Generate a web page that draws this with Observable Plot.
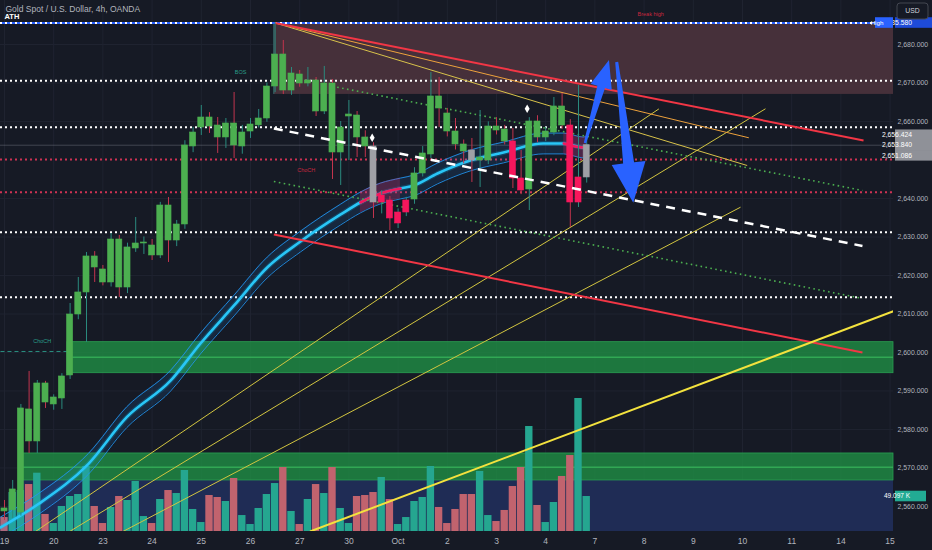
<!DOCTYPE html>
<html>
<head>
<meta charset="utf-8">
<script src="https://cdn.jsdelivr.net/npm/d3@7"></script>
<script src="https://cdn.jsdelivr.net/npm/@observablehq/plot@0.6"></script>
<style>
html,body{margin:0;padding:0;background:#161a25;}
#chart{position:relative;width:932px;height:550px;overflow:hidden;background:#161a25;}
#chart svg{position:absolute;left:0;top:0;}
</style>
</head>
<body>
<div id="chart"></div>
<script>
// ---------------- DATA ----------------
const open = [2559.49,2559.00,2558.44,2585.20,2576.89,2591.95,2586.50,2588.05,2594.03,2609.87,
 2615.59,2624.94,2621.56,2618.18,2629.35,2616.88,2627.02,2628.31,2627.79,2625.20,
 2638.18,2629.09,2633.25,2653.51,2658.44,2661.04,2658.96,2655.85,2659.48,2653.51,
 2657.40,2659.00,2660.78,2669.09,2677.40,2668.05,2672.21,2669.87,2670.65,2662.60,
 2669.87,2651.95,2661.30,2661.56,2655.85,2653.51,2638.96,2639.48,2633.51,2636.36,
 2639.74,2646.50,2651.43,2666.50,2662.08,2657.40,2654.03,2652.47,2649.87,2649.87,
 2658.70,2657.92,2654.81,2645.20,2642.34,2660.00,2655.85,2657.14,2663.90,2658.96,
 2638.96,2645.46];
const high = [2561.56,2566.76,2586.50,2595.07,2592.73,2592.50,2589.00,2594.50,2612.73,2619.48,
 2625.98,2626.20,2622.60,2630.91,2630.40,2628.40,2635.07,2630.00,2629.35,2639.00,
 2640.26,2634.30,2655.00,2658.50,2664.16,2662.30,2661.04,2660.78,2667.53,2659.00,
 2660.78,2663.12,2670.00,2685.61,2681.04,2674.03,2673.25,2674.03,2671.43,2674.30,
 2670.90,2660.00,2665.46,2662.60,2657.60,2654.50,2642.00,2640.50,2637.30,2640.30,
 2648.00,2653.50,2672.73,2671.43,2663.40,2660.78,2655.20,2655.59,2662.86,2659.90,
 2661.00,2659.00,2658.18,2652.47,2661.00,2661.50,2658.50,2666.24,2667.27,2660.50,
 2669.35,2656.42];
const low = [2556.38,2556.90,2557.50,2573.77,2573.77,2585.46,2585.00,2585.20,2592.99,2608.50,
 2602.60,2618.18,2617.30,2617.00,2614.29,2615.30,2626.00,2625.46,2623.90,2624.40,
 2623.38,2627.50,2632.00,2651.90,2656.37,2656.90,2651.70,2653.00,2650.39,2651.50,
 2655.60,2658.30,2659.80,2667.50,2667.00,2666.80,2668.90,2669.00,2661.30,2661.80,
 2644.94,2643.38,2649.87,2650.65,2650.65,2634.81,2636.00,2631.69,2632.20,2635.30,
 2638.50,2645.60,2650.40,2658.44,2656.00,2652.60,2649.00,2644.16,2642.86,2648.80,
 2656.50,2653.90,2642.60,2641.00,2636.88,2654.50,2654.80,2656.30,2658.00,2632.47,
 2637.66,2644.00];
const close = [2558.71,2564.42,2585.46,2576.89,2591.95,2587.01,2588.31,2593.77,2609.87,2615.59,
 2624.94,2622.08,2618.18,2629.35,2616.88,2627.28,2628.31,2628.57,2625.20,2638.18,
 2629.09,2633.25,2653.77,2657.14,2661.04,2658.70,2655.85,2659.48,2653.77,2657.14,
 2659.22,2660.78,2669.09,2677.40,2668.05,2672.47,2669.87,2670.65,2662.60,2669.87,
 2651.95,2658.44,2661.82,2655.85,2653.51,2638.96,2640.78,2634.81,2636.36,2639.48,
 2646.50,2651.69,2666.50,2663.38,2657.40,2654.03,2652.21,2649.87,2650.65,2658.70,
 2657.66,2654.81,2645.20,2642.08,2660.00,2655.85,2657.40,2663.90,2658.96,2638.96,
 2645.46,2653.84];
const volume = [19.6,54.7,57.5,65.9,81.8,23.9,11.2,35.1,49.1,51.9,
 91.2,35.1,11.2,33.7,49.1,43.5,70.2,21.0,11.2,44.9,
 57.5,53.3,85.6,30.9,12.6,50.5,47.7,42.1,74.4,22.4,
 9.8,32.3,51.9,67.3,89.8,28.1,9.8,44.9,65.9,53.3,
 89.8,32.3,11.2,49.1,50.5,54.7,75.8,44.9,9.8,19.6,
 42.1,47.7,91.2,33.7,11.2,30.9,51.9,51.9,84.2,22.4,
 14.0,29.5,63.1,89.8,147.3,36.5,12.6,40.7,77.2,106.6,
 186.6,49.097];
// trend state of the colouring indicator per bar
const trend = ["bull","bull","bull","bull","bull","bull","bull","bull","bull","bull",
 "bull","bull","bull","bull","bull","bull","bull","bull","bull","bull",
 "bull","bull","bull","bull","bull","bull","bull","bull","bull","bull",
 "bull","bull","bull","bull","bull","bull","bull","bull","bull","bull",
 "bull","bull","bull","bull","bull","flat","bear","bear","bear","bear",
 "bull","bull","bull","bull","bull","bull","bull","flat","bull","bull",
 "bull","bull","bear","bear","bull","bull","bull","bull","bull","bear",
 "bear","flat"];

// time axis (bar index of first bar of each day)
const dayStartIdx = [0,6,12,18,24,30,36,42,48,54,60,66,72,78,84,90,96,102,108];
const dayLabels = ["19","20","23","24","25","26","27","30","Oct","2","3","4","7","8","9","10","11","14","15"];
const priceTicks = [2560,2570,2580,2590,2600,2610,2620,2630,2640,2660,2670,2680];

// EMA ribbon centre (bar index, price)
const emaIdx = [-0.49,4.18,10.24,14.91,20.28,23.9,28.0,32.04,36.1,41.0,43.4,45.85,48.3,49.9,52.8,56.8,60.85,65.7,68.2,70.6,71];
const emaVal = [2554.55,2560.70,2571.09,2583.19,2592.73,2602.34,2612.21,2622.08,2628.83,2635.85,2638.96,2641.30,2642.60,2643.38,2646.50,2649.87,2651.95,2654.29,2654.29,2653.25,2653.60];
const emaBand = 2.7;
const emaBearRanges = [[43.4,48.3],[68.2,71]];

// horizontal levels
const athPrice = 2685.58;
const whiteLevels = [2670.6, 2658.5, 2631.25, 2614.37];
const redLevels = [2650.13, 2641.64];
const lastClose = 2653.84;

// zones
const brownZone = [{i0: 32.85, p0: 2667.03, p1: 2685.61}];
const greenZones = [{i0: 7.68, p0: 2594.62, p1: 2602.68, mid: 2598.78},
                    {i0: 2.3, p0: 2566.76, p1: 2573.77, mid: 2570.21}];
const blueZone = [{i0: 2.3, p0: 2540, p1: 2566.76}];

// trend lines (bar index, price)
const redLines = [{i1:33.0,p1:2685.61,i2:104.76,p2:2655.07},{i1:32.85,p1:2630.65,i2:104.63,p2:2600.00}];
const athFanLines = [{i1:33.0,p1:2685.61,i2:90.57,p2:2648.57},{i1:33.0,p1:2685.61,i2:90.77,p2:2655.77}];
const riseLines = [{i1:3.78,p1:2553.5,i2:79.8,p2:2663.27},{i1:7.94,p1:2553.5,i2:92.8,p2:2663.30},{i1:14.44,p1:2553.5,i2:89.76,p2:2637.74}];
const mainRiseLine = [{i1:37.26,p1:2553.5,i2:108.66,p2:2610.91}];
const greenDotLines = [{i1:40.57,p1:2668.91,i2:104.63,p2:2642.08},{i1:32.85,p1:2644.42,i2:104.63,p2:2614.03}];
const midDashLine = [{i1:32.85,p1:2658.18,i2:104.63,p2:2627.66}];
const chochLevel = [{i1:-0.49,i2:7.68,p:2600.26}];

// annotations
const labels = [{i:28.8,p:2672.9,text:"BOS",side:"bull"},{i:36.8,p:2647.4,text:"ChoCH",side:"bear"},
                {i:4.6,p:2602.9,text:"ChoCH",side:"bull"},{i:78.8,p:2687.8,text:"Break high",side:"bear"}];
const diamonds = [{i:44.84,p:2655.77},{i:63.74,p:2663.30}];
const arrows = [{i1:70.85,p1:2654.29,i2:73.78,p2:2675.85},{i1:74.72,p1:2675.33,i2:76.74,p2:2638.78}];
const emaTags = [2656.424, 2653.840, 2651.086];

// ---------------- BUILD ----------------
const FONT = "'Liberation Sans',Arial,sans-serif";
const W = 932, H = 550, MR = 39, MB = 19;
const xDomain = [-4/8.2, 889/8.2];
const yDomain = [2553.5, 2691.43];
const volMax = 745;
const xEnd = xDomain[1];

const bars = open.map((o, i) => ({i, o, h: high[i], l: low[i], c: close[i], v: volume[i], t: trend[i], up: close[i] >= o}));
const ema = emaIdx.map((i, k) => ({i, v: emaVal[k]}));
const emaBear = emaBearRanges.map(([a, b]) => ema.filter(d => d.i >= a && d.i <= b));

const bodyColor = {bull: "#4caf50", bear: "#f7175c", flat: "#9fa0a6"};
const labelColor = {bull: "#2a9d8a", bear: "#c8283f"};
const common = {width: W, height: H, marginLeft: 0, marginRight: MR, marginTop: 0, marginBottom: MB};
const chart = document.getElementById("chart");

// layer 1: background, grid, zones
const layer1 = Plot.plot({
  ...common,
  style: {background: "#161a25"},
  x: {domain: xDomain, axis: null},
  y: {domain: yDomain, axis: null},
  marks: [
    Plot.ruleY(priceTicks, {stroke: "#1f2330"}),
    Plot.ruleX(dayStartIdx, {stroke: "#1f2330"}),
    Plot.rect(blueZone, {x1: "i0", x2: () => xEnd, y1: "p0", y2: "p1", fill: "#1f2c55", clip: true}),
    Plot.rect(greenZones, {x1: "i0", x2: () => xEnd, y1: "p0", y2: "p1", fill: "#1f8f45", fillOpacity: 0.8, stroke: "#2a9e52", strokeWidth: 0.8}),
    Plot.ruleY(greenZones, {y: "mid", x1: "i0", x2: () => xEnd, stroke: "#3cc060", strokeWidth: 1}),
    Plot.rect(brownZone, {x1: "i0", x2: () => xEnd, y1: "p0", y2: "p1", fill: "#46303a"}),
    Plot.ruleX(brownZone, {x: "i0", y1: "p0", y2: "p1", stroke: "#2f6f6f", strokeWidth: 1})
  ]
});
chart.appendChild(layer1);

// layer 2: volume (own scale)
const layer2 = Plot.plot({
  ...common,
  style: {background: "transparent"},
  x: {domain: xDomain, axis: null},
  y: {domain: [0, volMax], axis: null},
  marks: [
    Plot.rectY(bars, {x1: d => d.i - 0.45, x2: d => d.i + 0.45, y: "v", fill: d => d.up ? "#25a690" : "#c1636e"})
  ]
});
chart.appendChild(layer2);

const volScale = Plot.scale({y: {type: "linear", domain: [0, volMax], range: [H - MB, 0]}});
const fmtPrice = d3.format(",.3f");

function arrowShape(index, scales) {
  const g = d3.create("svg:g");
  const spec = [{head: 28, headW: 11, tailW: 1.2, shaftW: 4}, {head: 40, headW: 17, tailW: 1.5, shaftW: 5.5}];
  arrows.forEach((a, k) => {
    const s = spec[k];
    const x0 = scales.x(a.i1), y0 = scales.y(a.p1), x1 = scales.x(a.i2), y1 = scales.y(a.p2);
    const L = Math.hypot(x1 - x0, y1 - y0), ux = (x1 - x0) / L, uy = (y1 - y0) / L, nx = -uy, ny = ux;
    const bx = x1 - ux * s.head, by = y1 - uy * s.head;
    const pts = [[x0 + nx * s.tailW, y0 + ny * s.tailW], [bx + nx * s.shaftW, by + ny * s.shaftW],
      [bx + nx * s.headW, by + ny * s.headW], [x1, y1], [bx - nx * s.headW, by - ny * s.headW],
      [bx - nx * s.shaftW, by - ny * s.shaftW], [x0 - nx * s.tailW, y0 - ny * s.tailW]];
    g.append("path").attr("d", "M" + pts.map(p => p.join(",")).join("L") + "Z").attr("fill", "#2962ff");
  });
  return g.node();
}

function rightTags(index, scales, values, dim) {
  const g = d3.create("svg:g").attr("font-family", FONT).attr("font-size", 6.8);
  const xr = dim.width - dim.marginRight;
  const tag = (y, text, fill, x0, w, fs) => {
    g.append("rect").attr("x", x0).attr("y", y - 5.3).attr("width", w).attr("height", 10.6).attr("fill", fill);
    const t = g.append("text").attr("x", x0 + 2).attr("y", y).attr("dy", "0.35em").attr("fill", "#ffffff").text(text);
    if (fs) t.attr("font-size", fs);
  };
  emaTags.forEach(v => tag(scales.y(v), fmtPrice(v), "#8f9198", xr + 2, dim.marginRight - 2));
  const ya = scales.y(athPrice);
  tag(ya, fmtPrice(athPrice), "#1e4bd8", xr + 2, dim.marginRight - 2);
  tag(ya, "High", "#2962ff", xr - 18, 18, 6.2);
  const last = volume[volume.length - 1];
  tag(volScale.apply(last), d3.format(".3f")(last) + " K", "#22ab94", xr + 2, 31, 6.5);
  // currency box
  g.append("rect").attr("x", xr + 4).attr("y", 3).attr("width", 31).attr("height", 16).attr("rx", 3)
    .attr("fill", "#161a25").attr("stroke", "#434651");
  g.append("text").attr("x", xr + 19.5).attr("y", 11).attr("dy", "0.35em").attr("text-anchor", "middle")
    .attr("fill", "#d1d4dc").text("USD");
  return g.node();
}

const layer3 = Plot.plot({
  ...common,
  style: {background: "transparent", fontFamily: FONT, color: "#b2b5be", overflow: "visible"},
  x: {domain: xDomain},
  y: {domain: yDomain},
  marks: [
    Plot.ruleY([lastClose], {stroke: "#9598a1", strokeOpacity: 0.35}),
    Plot.ruleY(whiteLevels, {stroke: "#ffffff", strokeWidth: 2, strokeDasharray: "2,3"}),
    Plot.ruleY(redLevels, {stroke: "#e2355a", strokeWidth: 2, strokeDasharray: "2,3", strokeOpacity: 0.9}),
    Plot.ruleY([athPrice], {stroke: "#2962ff", strokeWidth: 2}),
    Plot.ruleY([athPrice], {stroke: "#ffffff", strokeWidth: 2, strokeDasharray: "2,3"}),
    // EMA ribbon
    Plot.areaY(ema, {x: "i", y1: d => d.v - emaBand, y2: d => d.v + emaBand, fill: "#2196f3", fillOpacity: 0.12, curve: "monotone-x", clip: true}),
    Plot.line(ema, {x: "i", y: d => d.v + emaBand, stroke: "#2196f3", strokeOpacity: 0.85, strokeWidth: 1, curve: "monotone-x", clip: true}),
    Plot.line(ema, {x: "i", y: d => d.v - emaBand, stroke: "#2196f3", strokeOpacity: 0.85, strokeWidth: 1, curve: "monotone-x", clip: true}),
    Plot.line(ema, {x: "i", y: "v", stroke: "#00bcff", strokeOpacity: 0.2, strokeWidth: 5, curve: "monotone-x", clip: true}),
    Plot.line(ema, {x: "i", y: "v", stroke: "#29c6f7", strokeWidth: 2.6, curve: "monotone-x", clip: true}),
    ...emaBear.map(seg => Plot.areaY(seg, {x: "i", y1: d => d.v - emaBand, y2: d => d.v + emaBand, fill: "#e91e63", fillOpacity: 0.25, curve: "monotone-x"})),
    ...emaBear.map(seg => Plot.line(seg, {x: "i", y: "v", stroke: "#f0185c", strokeWidth: 2.6, curve: "monotone-x"})),
    // trend lines
    Plot.link(riseLines, {x1: "i1", y1: "p1", x2: "i2", y2: "p2", stroke: "#d2c540", strokeWidth: 1, clip: true}),
    Plot.link([athFanLines[0]], {x1: "i1", y1: "p1", x2: "i2", y2: "p2", stroke: "#d8c24a", strokeWidth: 1}),
    Plot.link([athFanLines[1]], {x1: "i1", y1: "p1", x2: "i2", y2: "p2", stroke: "#eea23c", strokeWidth: 1}),
    Plot.link(greenDotLines, {x1: "i1", y1: "p1", x2: "i2", y2: "p2", stroke: "#4caf50", strokeWidth: 1.6, strokeDasharray: "1.6,3.4"}),
    Plot.link(chochLevel, {x1: "i1", y1: "p", x2: "i2", y2: "p", stroke: "#2a8f80", strokeWidth: 1, strokeDasharray: "4,3"}),
    Plot.link(redLines, {x1: "i1", y1: "p1", x2: "i2", y2: "p2", stroke: "#f23645", strokeWidth: 2}),
    Plot.link(mainRiseLine, {x1: "i1", y1: "p1", x2: "i2", y2: "p2", stroke: "#f3e23e", strokeWidth: 2, clip: true}),
    // candles
    Plot.ruleX(bars, {x: "i", y1: "l", y2: "h", stroke: d => d.up ? "#2a8a7e" : "#c2344d", strokeWidth: 1, clip: true}),
    Plot.rect(bars, {x1: d => d.i - 0.37, x2: d => d.i + 0.37, y1: d => Math.min(d.o, d.c), y2: d => Math.max(d.o, d.c),
      fill: d => bodyColor[d.t], stroke: d => bodyColor[d.t], strokeWidth: 0.6, clip: true}),
    Plot.link(midDashLine, {x1: "i1", y1: "p1", x2: "i2", y2: "p2", stroke: "#ffffff", strokeWidth: 2.5, strokeDasharray: "9,7"}),
    Plot.dot(diamonds, {x: "i", y: "p", symbol: "diamond", r: 2.6, fill: "#ffffff"}),
    Plot.text(labels, {x: "i", y: "p", text: "text", fill: d => labelColor[d.side], fontSize: 5.5}),
    Plot.text(["ATH"], {x: () => xDomain[0], y: () => athPrice, dx: 4, dy: -6, textAnchor: "start", fill: "#ffffff", fontSize: 7.5, fontWeight: "bold"}),
    arrowShape,
    // axes
    Plot.axisX({anchor: "bottom", ticks: dayStartIdx, tickSize: 0, tickPadding: 6, label: null,
      tickFormat: d => dayLabels[dayStartIdx.indexOf(d)], fontSize: 8.5}),
    Plot.axisY({anchor: "right", ticks: priceTicks, tickSize: 0, tickPadding: 4, label: null,
      tickFormat: fmtPrice, fontSize: 6.9}),
    rightTags,
    Plot.text(["Gold Spot / U.S. Dollar, 4h, OANDA"], {frameAnchor: "top-left", dx: 5, dy: 5, textAnchor: "start", fill: "#b2b5be", fontSize: 8.5})
  ]
});
chart.appendChild(layer3);
</script>
</body>
</html>
